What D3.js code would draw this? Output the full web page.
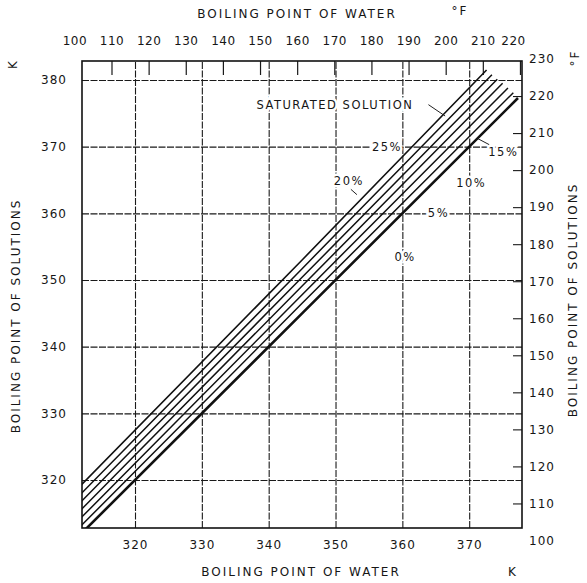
<!DOCTYPE html>
<html>
<head>
<meta charset="utf-8">
<script src="https://cdn.jsdelivr.net/npm/d3@7"></script>
<style>
  body { margin: 0; background: #fff; }
  svg text { font-family: 'DejaVu Sans', sans-serif; fill: #161616; }
</style>
</head>
<body>
<div id="chart"></div>
<script>
// kelvin ticks
const waterTicksK = [320, 330, 340, 350, 360, 370];
const solutionTicksK = [320, 330, 340, 350, 360, 370, 380];
// fahrenheit ticks (top = water, right = solutions)
const waterTicksF = [100, 110, 120, 130, 140, 150, 160, 170, 180, 190, 200, 210, 220];
const solutionTicksF = [100, 110, 120, 130, 140, 150, 160, 170, 180, 190, 200, 210, 220, 230];

// duhring lines, [water K, solution K]
const seriesLabels = ["0%", "5%", "10%", "15%", "20%", "25%", "SATURATED SOLUTION"];
const pct0 = [[312.0, 312.0], [345.0, 345.0], [377.3, 377.3]];
const pct5 = [[312.0, 313.2], [345.0, 346.5], [376.6, 378.1]];
const pct10 = [[312.0, 314.4], [345.0, 347.8], [375.8, 378.8]];
const pct15 = [[312.0, 315.6], [345.0, 349.1], [375.0, 379.5]];
const pct20 = [[312.0, 316.8], [345.0, 350.4], [374.2, 380.1]];
const pct25 = [[312.0, 318.0], [345.0, 351.7], [373.4, 380.8]];
const pctSat = [[312.0, 319.3], [345.0, 353.0], [372.6, 381.5]];
const seriesValues = [pct0, pct5, pct10, pct15, pct20, pct25, pctSat];
const seriesWidth = [2.6, 1.5, 1.5, 1.5, 1.5, 1.5, 1.6];

// label anchors in K
const labelWater = [360.4, 365.4, 370.3, 375.1, 352.0, 357.7, 349.9];
const labelSolution = [353.4, 360.0, 364.5, 369.2, 364.8, 370.0, 376.3];
// leader lines [x1, y1, x2, y2] in K
const leaders = [
    [363.9, 376.3, 366.4, 374.6],
    [371.3, 371.2, 373.0, 370.3],
    [352.3, 363.6, 353.2, 362.8]
];

const kToF = k => (k - 273.15) * 9 / 5 + 32;

const width = 587, height = 583;
const plotLeft = 82, plotRight = 522, plotTop = 61, plotBottom = 528;

const svg = d3.select('#chart').append('svg')
    .attr('width', width)
    .attr('height', height);

svg.append('rect').attr('width', width).attr('height', height).attr('fill', '#fff');

const x = d3.scaleLinear().domain([312.07, 377.9]).range([plotLeft, plotRight]);
const y = d3.scaleLinear().domain([312.8, 382.85]).range([plotBottom, plotTop]);
const xF = d3.scaleLinear().domain(x.domain().map(kToF)).range(x.range());
const yF = d3.scaleLinear().domain(y.domain().map(kToF)).range(y.range());

svg.append('defs').append('clipPath').attr('id', 'plot')
    .append('rect')
    .attr('x', plotLeft).attr('y', plotTop)
    .attr('width', plotRight - plotLeft).attr('height', plotBottom - plotTop);

// grid via the kelvin axes
const bottomAxis = svg.append('g')
    .attr('transform', `translate(0,${plotBottom})`)
    .call(d3.axisBottom(x).tickValues(waterTicksK).tickSize(-(plotBottom - plotTop)).tickPadding(12));

const leftAxis = svg.append('g')
    .attr('transform', `translate(${plotLeft},0)`)
    .call(d3.axisLeft(y).tickValues(solutionTicksK).tickSize(-(plotRight - plotLeft)).tickPadding(15));

[bottomAxis, leftAxis].forEach(a => {
    a.select('.domain').remove();
    a.selectAll('.tick line')
        .attr('stroke', '#1a1a1a')
        .attr('stroke-width', 1.1)
        .attr('stroke-dasharray', '7,1.5');
    a.selectAll('.tick text')
        .attr('fill', '#161616')
        .style('font-size', '12px')
        .style('letter-spacing', '1px');
});

// top fahrenheit axis
const topAxis = svg.append('g')
    .attr('transform', `translate(0,${plotTop})`)
    .call(d3.axisTop(xF).tickValues(waterTicksF).tickSize(-14).tickPadding(16));
topAxis.select('.domain').remove();
topAxis.selectAll('.tick line')
    .attr('stroke', '#1a1a1a')
    .attr('stroke-width', 1.2)
    .attr('display', d => xF(d) < plotLeft ? 'none' : null);
topAxis.selectAll('.tick text')
    .attr('fill', '#161616')
    .attr('dx', d => d === 220 ? -7 : 0)
    .style('font-size', '12px')
    .style('letter-spacing', '0.5px');

// right fahrenheit axis
const rightAxis = svg.append('g')
    .attr('transform', `translate(${plotRight},0)`)
    .call(d3.axisRight(yF).tickValues(solutionTicksF).tickSize(-9).tickPadding(7));
rightAxis.select('.domain').remove();
rightAxis.selectAll('.tick line')
    .attr('stroke', '#1a1a1a')
    .attr('stroke-width', 1.1)
    .attr('display', d => yF(d) > plotBottom || yF(d) < plotTop ? 'none' : null);
rightAxis.selectAll('.tick text')
    .attr('fill', '#161616')
    .style('font-size', '12px')
    .style('letter-spacing', '1px');

// frame
svg.append('rect')
    .attr('x', plotLeft).attr('y', plotTop)
    .attr('width', plotRight - plotLeft).attr('height', plotBottom - plotTop)
    .attr('fill', 'none')
    .attr('stroke', '#111')
    .attr('stroke-width', 1.6);

// the lines
const line = d3.line().x(d => x(d[0])).y(d => y(d[1]));
svg.append('g')
    .attr('clip-path', 'url(#plot)')
    .selectAll('path')
    .data(seriesValues)
    .enter().append('path')
    .attr('d', line)
    .attr('fill', 'none')
    .attr('stroke', '#111')
    .attr('stroke-width', (d, i) => seriesWidth[i]);

svg.append('g')
    .selectAll('line')
    .data(leaders)
    .enter().append('line')
    .attr('x1', d => x(d[0])).attr('y1', d => y(d[1]))
    .attr('x2', d => x(d[2])).attr('y2', d => y(d[3]))
    .attr('stroke', '#222')
    .attr('stroke-width', 1);

svg.append('g')
    .selectAll('text')
    .data(seriesLabels)
    .enter().append('text')
    .attr('x', (d, i) => x(labelWater[i]))
    .attr('y', (d, i) => y(labelSolution[i]))
    .attr('dy', '0.35em')
    .attr('text-anchor', 'middle')
    .style('font-size', '11.5px')
    .style('letter-spacing', '1.5px')
    .style('paint-order', 'stroke')
    .style('stroke', '#fff')
    .style('stroke-width', '5px')
    .text(d => d);

// axis titles
const title = (txt, tx, ty, rot) => svg.append('text')
    .attr('transform', `translate(${tx},${ty}) rotate(${rot})`)
    .attr('text-anchor', 'middle')
    .style('font-size', '12px')
    .style('letter-spacing', '2px')
    .text(txt);

title('BOILING POINT OF WATER', 297, 18, 0);
title('°F', 460, 15, 0);
title('BOILING POINT OF WATER', 301, 576, 0);
title('K', 513, 576, 0);
title('BOILING POINT OF SOLUTIONS', 20, 316, -90);
title('K', 17, 64, -90);
title('BOILING POINT OF SOLUTIONS', 577, 300, -90);
title('°F', 579, 58, -90);
</script>
</body>
</html>
